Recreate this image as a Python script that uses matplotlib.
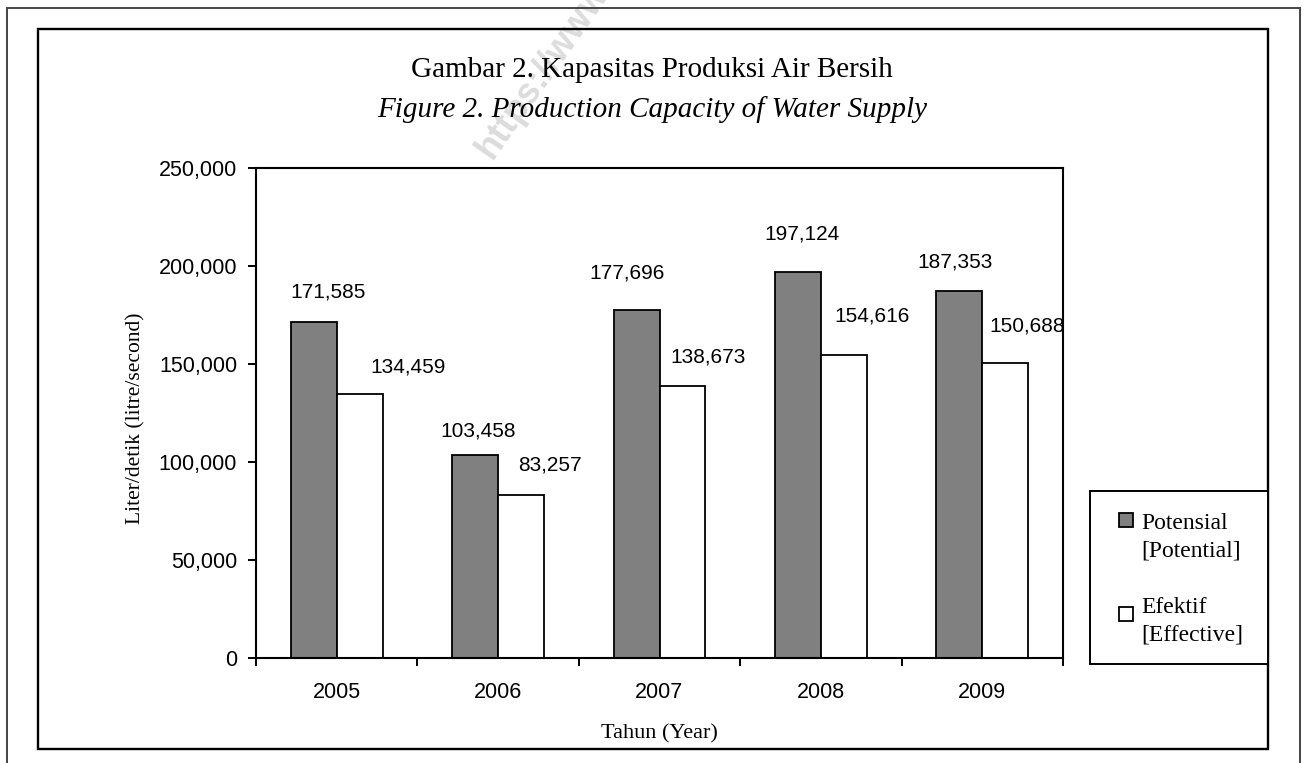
import numpy as np
import matplotlib
matplotlib.use("Agg")
import matplotlib.pyplot as plt
from matplotlib.patches import Rectangle
from matplotlib.ticker import FuncFormatter

# data
years = ["2005", "2006", "2007", "2008", "2009"]
potensial = [171585, 103458, 177696, 197124, 187353]
efektif = [134459, 83257, 138673, 154616, 150688]
y_ticks = [0, 50000, 100000, 150000, 200000, 250000]

# label offsets (points) from the top centre of each bar, as placed in the original
pot_off = [(10.4, 21.6), (2.2, 17.3), (-6.8, 26.6), (2.9, 27.1), (-2.9, 20.9)]
eff_off = [(34.6, 19.8), (20.9, 21.6), (18.4, 20.9), (20.2, 28.1), (15.8, 26.4)]

W, H = 1304, 763
SERIF = "Liberation Serif"
SANS = "Liberation Sans"

def px(x, y):
	# pixel position (from top-left) -> figure fraction
	return x / W, 1 - y / H

fig = plt.figure(figsize=(W / 100, H / 100), dpi=100)
fig.patch.set_facecolor("white")

# faint watermark behind everything
fig.text(*px(492, 160), "https://www.bps.go.id", fontsize=26, fontweight="bold",
	family=SANS, color="#dcdcdc", rotation=55, ha="left", va="baseline",
	rotation_mode="anchor", zorder=0)

# outer and inner frames
x0, y0 = px(7, 8)
fig.add_artist(Rectangle((x0, -0.05), (1300 - 7) / W, y0 + 0.05, transform=fig.transFigure,
	fill=False, edgecolor="#444444", linewidth=1.4, zorder=1))
x0, y0 = px(38, 749)
fig.add_artist(Rectangle((x0, y0), (1268 - 38) / W, (749 - 29) / H, transform=fig.transFigure,
	fill=False, edgecolor="black", linewidth=1.7, zorder=1))

# plot area
l, b = px(256, 658)
ax = fig.add_axes([l, b, (1063 - 256) / W, (658 - 168) / H])
ax.set_zorder(2)

x = np.arange(len(years))
bw = 0.285
b1 = ax.bar(x - bw / 2, potensial, bw, color="#808080", edgecolor="black", linewidth=1.3)
b2 = ax.bar(x + bw / 2, efektif, bw, color="white", edgecolor="black", linewidth=1.3)

for bars, vals, offs in [(b1, potensial, pot_off), (b2, efektif, eff_off)]:
	for rect, v, (dx, dy) in zip(bars, vals, offs):
		ax.annotate("{:,}".format(v), (rect.get_x() + rect.get_width() / 2, v),
			xytext=(dx, dy), textcoords="offset points", ha="center", va="center",
			fontsize=15, family=SANS)

ax.set_xlim(-0.5, len(years) - 0.5)
ax.set_ylim(0, 250000)
ax.set_yticks(y_ticks)
ax.yaxis.set_major_formatter(FuncFormatter(lambda v, p: "{:,}".format(int(v))))
ax.tick_params(axis="y", direction="out", length=6, width=1.4, pad=7.5, labelsize=15.5)

ax.set_xticks(np.arange(-0.5, len(years), 1))
ax.set_xticklabels([])
ax.set_xticks(x, minor=True)
ax.set_xticklabels(years, minor=True)
ax.tick_params(axis="x", which="major", direction="out", length=6, width=1.4)
ax.tick_params(axis="x", which="minor", length=0, pad=17, labelsize=15.5)
for t in ax.get_xticklabels(minor=True) + ax.get_yticklabels():
	t.set_family(SANS)

for s in ax.spines.values():
	s.set_linewidth(1.5)

ax.set_xlabel("Tahun (Year)", fontsize=16, family=SERIF)
ax.xaxis.set_label_coords(0.5, (658 - 734) / 490)
ax.xaxis.label.set_va("center")
ax.set_ylabel("Liter/detik (litre/second)", fontsize=15.5, family=SERIF)
ax.yaxis.set_label_coords((136 - 256) / 807, 0.49)
ax.yaxis.label.set_va("center")

# title, two lines
fig.text(*px(652, 77), "Gambar 2. Kapasitas Produksi Air Bersih", fontsize=21,
	family=SERIF, ha="center", va="baseline")
fig.text(*px(652, 117), "Figure 2. Production Capacity of Water Supply", fontsize=21,
	family=SERIF, style="italic", ha="center", va="baseline")

# legend box drawn by hand to keep the two-line labels
lx, ly = px(1090, 664)
fig.add_artist(Rectangle((lx, ly), (1268 - 1090) / W, (664 - 491) / H,
	transform=fig.transFigure, facecolor="white", edgecolor="black", linewidth=1.4, zorder=3))
entries = [("#808080", ["Potensial", "[Potential]"], 513, 529),
	("white", ["Efektif", "[Effective]"], 607, 613)]
for col, lines, top, base in entries:
	sx, sy = px(1119, top + 14)
	fig.add_artist(Rectangle((sx, sy), 14 / W, 14 / H, transform=fig.transFigure,
		facecolor=col, edgecolor="black", linewidth=1.3, zorder=4))
	for k, line in enumerate(lines):
		fig.text(*px(1141, base + 28 * k), line, fontsize=17, family=SERIF,
			ha="left", va="baseline", zorder=4)

fig.savefig("out.png", dpi=100)
